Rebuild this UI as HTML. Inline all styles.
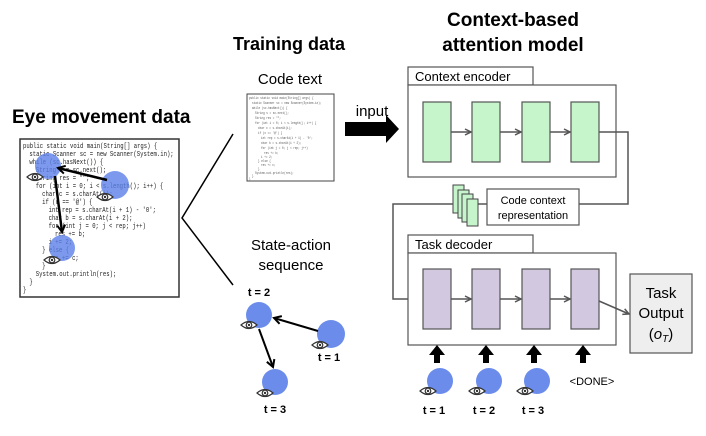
<!DOCTYPE html>
<html><head><meta charset="utf-8"><style>
html,body{margin:0;padding:0;background:#fff;}
svg{display:block;font-family:"Liberation Sans",Arial,sans-serif;}
.code{font-family:"Liberation Mono",monospace;}
</style></head><body>
<svg width="706" height="436" viewBox="0 0 706 436" xmlns="http://www.w3.org/2000/svg">
<defs>
<marker id="ag" markerWidth="8" markerHeight="8" refX="7" refY="4" orient="auto" markerUnits="userSpaceOnUse"><path d="M1,1 L7,4 L1,7" fill="none" stroke="#555" stroke-width="1.5"/></marker>
<marker id="ab" markerWidth="10" markerHeight="10" refX="8" refY="5" orient="auto" markerUnits="userSpaceOnUse"><path d="M1,1 L8,5 L1,9" fill="none" stroke="#000" stroke-width="2"/></marker>
<g id="eye"><path d="M-8,0 Q0,-7 8,0 Q0,7 -8,0 Z" fill="#fff" stroke="#333" stroke-width="1.2"/><circle cx="0" cy="0" r="2.8" fill="#fff" stroke="#333" stroke-width="1.2"/><circle cx="0" cy="0" r="1.2" fill="#333"/></g>
</defs>

<!-- Titles -->
<text x="12" y="123" font-size="19" font-weight="bold">Eye movement data</text>
<text x="289" y="50" font-size="18" font-weight="bold" text-anchor="middle">Training data</text>
<text x="513" y="26" font-size="19" font-weight="bold" text-anchor="middle">Context-based</text>
<text x="513" y="51" font-size="19" font-weight="bold" text-anchor="middle">attention model</text>

<!-- Left code box -->
<rect x="20" y="139" width="159" height="158" fill="#fff" stroke="#333" stroke-width="1.5"/>
<g class="code" font-size="7" fill="#222" transform="translate(23,0) scale(0.8,1)">
<text x="0" y="148">public static void main(String[] args) {</text>
<text x="8" y="156">static Scanner sc = new Scanner(System.in);</text>
<text x="8" y="164">while (sc.hasNext()) {</text>
<text x="16" y="172">String s = sc.next();</text>
<text x="16" y="180">String res = "";</text>
<text x="16" y="188">for (int i = 0; i &lt; s.length(); i++) {</text>
<text x="24" y="196">char c = s.charAt(i);</text>
<text x="24" y="204">if (c == '@') {</text>
<text x="32" y="212">int rep = s.charAt(i + 1) - '0';</text>
<text x="32" y="220">char b = s.charAt(i + 2);</text>
<text x="32" y="228">for (int j = 0; j &lt; rep; j++)</text>
<text x="40" y="236">res += b;</text>
<text x="32" y="244">i += 2;</text>
<text x="24" y="252">} else {</text>
<text x="32" y="260">res += c;</text>
<text x="24" y="268">}</text>
<text x="16" y="276">System.out.println(res);</text>
<text x="8" y="284">}</text>
<text x="0" y="292">}</text>
</g>
<circle cx="48" cy="166" r="13" fill="#5b7fe8" opacity="0.8"/>
<circle cx="115" cy="185" r="14" fill="#5b7fe8" opacity="0.8"/>
<circle cx="62" cy="248" r="13" fill="#5b7fe8" opacity="0.8"/>
<use href="#eye" x="35" y="177"/>
<use href="#eye" x="105" y="197"/>
<use href="#eye" x="52" y="260"/>
<line x1="107" y1="180" x2="58" y2="168" stroke="#000" stroke-width="2.5" marker-end="url(#ab)"/>
<line x1="55" y1="176" x2="62" y2="232" stroke="#000" stroke-width="2.5" marker-end="url(#ab)"/>

<!-- bracket lines -->
<polyline points="233,134 182,218 233,285" fill="none" stroke="#000" stroke-width="1.5"/>

<!-- Code text -->
<text x="290" y="84" font-size="15" text-anchor="middle">Code text</text>
<rect x="247" y="94" width="87" height="87" fill="#fff" stroke="#444" stroke-width="1"/>
<g class="code" font-size="3.6" fill="#555" transform="translate(249,0) scale(0.75,1)">
<text x="0" y="99">public static void main(String[] args) {</text>
<text x="4" y="104">static Scanner sc = new Scanner(System.in);</text>
<text x="4" y="109">while (sc.hasNext()) {</text>
<text x="8" y="114">String s = sc.next();</text>
<text x="8" y="119">String res = "";</text>
<text x="8" y="124">for (int i = 0; i &lt; s.length(); i++) {</text>
<text x="12" y="129">char c = s.charAt(i);</text>
<text x="12" y="134">if (c == '@') {</text>
<text x="16" y="139">int rep = s.charAt(i + 1) - '0';</text>
<text x="16" y="144">char b = s.charAt(i + 2);</text>
<text x="16" y="149">for (int j = 0; j &lt; rep; j++)</text>
<text x="20" y="154">res += b;</text>
<text x="16" y="158">i += 2;</text>
<text x="12" y="162">} else {</text>
<text x="16" y="166">res += c;</text>
<text x="12" y="170">}</text>
<text x="8" y="174">System.out.println(res);</text>
<text x="4" y="177">}</text>
<text x="0" y="180">}</text>
</g>

<!-- input arrow -->
<text x="372" y="116" font-size="15" text-anchor="middle">input</text>
<polygon points="345,122 386,122 386,115 399,129 386,143 386,136 345,136" fill="#000"/>

<!-- State-action -->
<text x="291" y="250" font-size="15" text-anchor="middle">State-action</text>
<text x="291" y="270" font-size="15" text-anchor="middle">sequence</text>
<text x="259" y="296" font-size="11" font-weight="bold" text-anchor="middle">t = 2</text>
<text x="329" y="361" font-size="11" font-weight="bold" text-anchor="middle">t = 1</text>
<text x="275" y="413" font-size="11" font-weight="bold" text-anchor="middle">t = 3</text>
<circle cx="259" cy="315" r="13" fill="#5b7fe8" opacity="0.9"/>
<circle cx="331" cy="334" r="14" fill="#5b7fe8" opacity="0.9"/>
<circle cx="275" cy="382" r="13" fill="#5b7fe8" opacity="0.9"/>
<use href="#eye" x="249" y="325"/>
<use href="#eye" x="320" y="345"/>
<use href="#eye" x="265" y="393"/>
<line x1="318" y1="331" x2="274" y2="318" stroke="#000" stroke-width="2" marker-end="url(#ab)"/>
<line x1="259" y1="329" x2="273" y2="367" stroke="#000" stroke-width="2" marker-end="url(#ab)"/>

<!-- Context encoder -->
<rect x="408" y="67" width="125" height="18" fill="#fff" stroke="#555" stroke-width="1.2"/>
<text x="415" y="81" font-size="13">Context encoder</text>
<rect x="408" y="85" width="208" height="92" fill="#fff" stroke="#555" stroke-width="1.2"/>
<g fill="#c6f5cc" stroke="#555" stroke-width="1.2">
<rect x="423" y="102" width="28" height="60"/>
<rect x="472" y="102" width="28" height="60"/>
<rect x="522" y="102" width="28" height="60"/>
<rect x="571" y="102" width="28" height="60"/>
</g>
<g stroke="#555" stroke-width="1.5" marker-end="url(#ag)">
<line x1="451" y1="132" x2="471" y2="132"/>
<line x1="500" y1="132" x2="521" y2="132"/>
<line x1="550" y1="132" x2="570" y2="132"/>
</g>
<polyline points="599,132 628,132 628,204 579,204" fill="none" stroke="#555" stroke-width="1.5"/>

<!-- code context representation -->
<rect x="487" y="189" width="92" height="36" fill="#fff" stroke="#555" stroke-width="1.2"/>
<text x="533" y="204" font-size="11" text-anchor="middle">Code context</text>
<text x="533" y="219" font-size="11" text-anchor="middle">representation</text>
<line x1="478" y1="204" x2="487" y2="204" stroke="#555" stroke-width="1.5"/>
<g fill="#c6f5cc" stroke="#444" stroke-width="1">
<rect x="453" y="185" width="11" height="28"/>
<rect x="458" y="190" width="11" height="28"/>
<rect x="462" y="194" width="11" height="28"/>
<rect x="467" y="199" width="11" height="27"/>
</g>
<polyline points="453,204 393,204 393,299 422,299" fill="none" stroke="#555" stroke-width="1.5" marker-end="url(#ag)"/>

<!-- Task decoder -->
<rect x="408" y="235" width="125" height="18" fill="#fff" stroke="#555" stroke-width="1.2"/>
<text x="415" y="249" font-size="13">Task decoder</text>
<rect x="408" y="253" width="208" height="92" fill="#fff" stroke="#555" stroke-width="1.2"/>
<g fill="#d2c8e0" stroke="#555" stroke-width="1.2">
<rect x="423" y="269" width="28" height="60"/>
<rect x="472" y="269" width="28" height="60"/>
<rect x="522" y="269" width="28" height="60"/>
<rect x="571" y="269" width="28" height="60"/>
</g>
<g stroke="#555" stroke-width="1.5" marker-end="url(#ag)">
<line x1="451" y1="299" x2="471" y2="299"/>
<line x1="500" y1="299" x2="521" y2="299"/>
<line x1="550" y1="299" x2="570" y2="299"/>
<line x1="599" y1="301" x2="629" y2="314"/>
</g>

<!-- Task output -->
<rect x="630" y="274" width="62" height="79" fill="#eee" stroke="#555" stroke-width="1.2"/>
<text x="661" y="298" font-size="15" text-anchor="middle">Task</text>
<text x="661" y="318" font-size="15" text-anchor="middle">Output</text>
<text x="661" y="339" font-size="15" text-anchor="middle">(<tspan font-style="italic">o</tspan><tspan font-style="italic" font-size="10" dy="3">T</tspan><tspan dy="-3">)</tspan></text>

<!-- up arrows -->
<g fill="#000">
<polygon points="434,363 434,355 429,355 437,345 445,355 440,355 440,363"/>
<polygon points="483,363 483,355 478,355 486,345 494,355 489,355 489,363"/>
<polygon points="531,363 531,355 526,355 534,345 542,355 537,355 537,363"/>
<polygon points="580,363 580,355 575,355 583,345 591,355 586,355 586,363"/>
</g>
<circle cx="440" cy="381" r="13" fill="#5b7fe8" opacity="0.9"/>
<circle cx="489" cy="381" r="13" fill="#5b7fe8" opacity="0.9"/>
<circle cx="537" cy="381" r="13" fill="#5b7fe8" opacity="0.9"/>
<use href="#eye" x="428" y="391"/>
<use href="#eye" x="477" y="391"/>
<use href="#eye" x="525" y="391"/>
<text x="592" y="385" font-size="11" text-anchor="middle">&lt;DONE&gt;</text>
<text x="434" y="414" font-size="11" font-weight="bold" text-anchor="middle">t = 1</text>
<text x="484" y="414" font-size="11" font-weight="bold" text-anchor="middle">t = 2</text>
<text x="533" y="414" font-size="11" font-weight="bold" text-anchor="middle">t = 3</text>
</svg>
</body></html>
